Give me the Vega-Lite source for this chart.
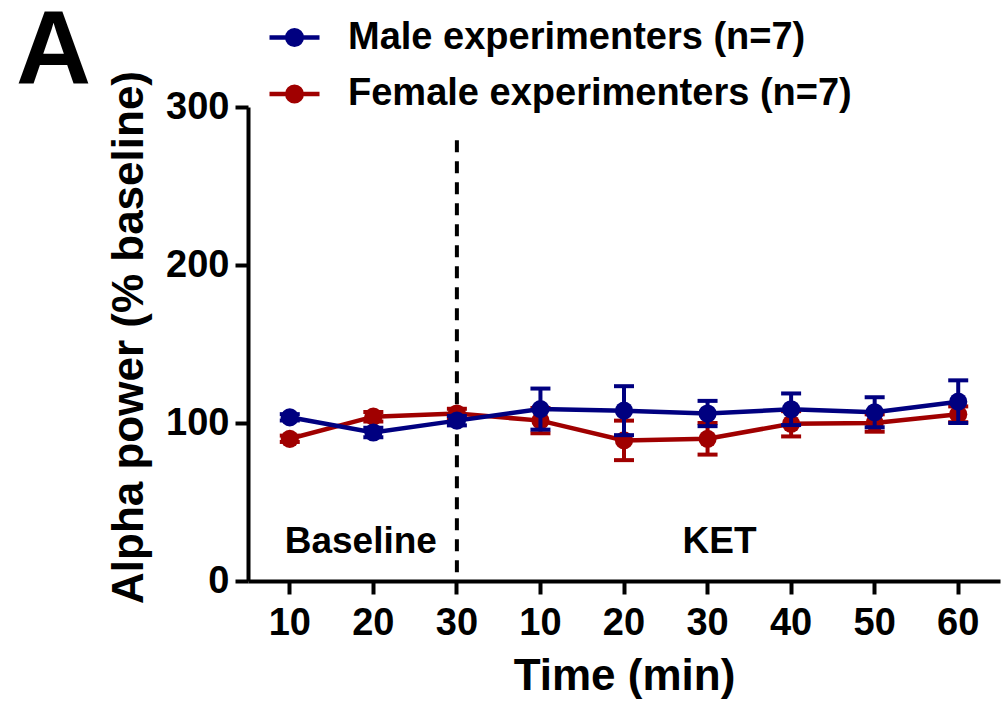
{
  "$schema": "https://vega.github.io/schema/vega-lite/v6.json",
  "width": 752,
  "height": 474,
  "autosize": "none",
  "padding": {"left": 248, "top": 107, "right": 3, "bottom": 123},
  "background": "white",
  "title": {"text": "A", "anchor": "start", "frame": "group", "orient": "top", "fontSize": 104, "font": "Liberation Sans", "fontWeight": "bold", "color": "black", "dx": -232, "dy": 177, "baseline": "alphabetic", "offset": 0},
  "config": {
    "view": {"stroke": null},
    "font": "Liberation Sans",
    "axis": {"grid": false, "domainColor": "black", "domainWidth": 4, "tickColor": "black", "tickWidth": 4, "tickSize": 13, "labelFont": "Liberation Sans", "labelFontWeight": "bold", "labelFontSize": 38, "labelColor": "black", "titleFont": "Liberation Sans", "titleFontWeight": "bold", "titleFontSize": 44, "titleColor": "black"}
  },
  "data": {
    "values": [
      {"group": "Female experimenters (n=7)", "t": "B10", "mean": 90, "err": 2},
      {"group": "Female experimenters (n=7)", "t": "B20", "mean": 104, "err": 3},
      {"group": "Female experimenters (n=7)", "t": "B30", "mean": 106, "err": 3},
      {"group": "Female experimenters (n=7)", "t": "K10", "mean": 101.5, "err": 8},
      {"group": "Female experimenters (n=7)", "t": "K20", "mean": 89, "err": 12.5},
      {"group": "Female experimenters (n=7)", "t": "K30", "mean": 90, "err": 10},
      {"group": "Female experimenters (n=7)", "t": "K40", "mean": 99.5, "err": 8},
      {"group": "Female experimenters (n=7)", "t": "K50", "mean": 100, "err": 5.5},
      {"group": "Female experimenters (n=7)", "t": "K60", "mean": 105.5, "err": 5},
      {"group": "Male experimenters (n=7)", "t": "B10", "mean": 103.6, "err": 2},
      {"group": "Male experimenters (n=7)", "t": "B20", "mean": 94, "err": 3},
      {"group": "Male experimenters (n=7)", "t": "B30", "mean": 101.5, "err": 3},
      {"group": "Male experimenters (n=7)", "t": "K10", "mean": 108.8, "err": 13},
      {"group": "Male experimenters (n=7)", "t": "K20", "mean": 107.8, "err": 15.5},
      {"group": "Male experimenters (n=7)", "t": "K30", "mean": 106, "err": 8},
      {"group": "Male experimenters (n=7)", "t": "K40", "mean": 108.7, "err": 10},
      {"group": "Male experimenters (n=7)", "t": "K50", "mean": 106.8, "err": 9.5},
      {"group": "Male experimenters (n=7)", "t": "K60", "mean": 113.5, "err": 13.5}
    ]
  },
  "encoding": {
    "x": {"field": "t", "type": "nominal", "sort": ["B10","B20","B30","K10","K20","K30","K40","K50","K60"],
      "scale": {"domain": ["B10","B20","B30","K10","K20","K30","K40","K50","K60"], "paddingInner": 0, "paddingOuter": 0},
      "axis": {"title": "Time (min)", "labelAngle": 0, "labelPadding": 10, "titlePadding": 12, "labelExpr": "substring(datum.value, 1)"}},
    "y": {"field": "mean", "type": "quantitative",
      "scale": {"domain": [0, 300], "nice": false},
      "axis": {"title": "Alpha power (% baseline)", "values": [0, 100, 200, 300], "labelPadding": 6, "titlePadding": 14, "titleY": 230}}
  },
  "layer": [
    {
      "data": {"values": [{"t": "B30", "y0": 0, "y1": 279}]},
      "mark": {"type": "rule", "color": "black", "strokeWidth": 4, "strokeDash": [12, 9]},
      "encoding": {"x": {"field": "t", "type": "nominal"}, "y": {"field": "y1", "type": "quantitative"}, "y2": {"field": "y0"}}
    },
    {
      "data": {"values": [{"label": "Baseline", "t": "B30", "yv": 18}]},
      "mark": {"type": "text", "align": "right", "baseline": "alphabetic", "dx": -20, "fontSize": 37, "fontWeight": "bold", "font": "Liberation Sans", "color": "black"},
      "encoding": {"x": {"field": "t", "type": "nominal"}, "y": {"field": "yv", "type": "quantitative"}, "text": {"field": "label"}}
    },
    {
      "data": {"values": [{"label": "KET", "t": "K30", "yv": 18}]},
      "mark": {"type": "text", "align": "center", "baseline": "alphabetic", "dx": 12, "fontSize": 37, "fontWeight": "bold", "font": "Liberation Sans", "color": "black"},
      "encoding": {"x": {"field": "t", "type": "nominal"}, "y": {"field": "yv", "type": "quantitative"}, "text": {"field": "label"}}
    },
    {
      "transform": [{"filter": "datum.group === 'Female experimenters (n=7)'"}],
      "encoding": {"color": {"field": "group", "type": "nominal",
        "scale": {"domain": ["Male experimenters (n=7)", "Female experimenters (n=7)"], "range": ["#000080", "#A00000"]},
        "legend": {"title": null, "orient": "none", "legendX": 19, "legendY": -97, "padding": 0, "rowPadding": 9.5,
          "symbolType": "M-1,0H1M0.29,0A0.29,0.29,0,1,1,-0.29,0A0.29,0.29,0,1,1,0.29,0Z",
          "symbolSize": 2500, "symbolStrokeWidth": 4.5, "labelFontSize": 38, "labelFont": "Liberation Sans", "labelFontWeight": "bold", "labelColor": "black", "labelOffset": 26, "labelLimit": 0,
          "encode": {"symbols": {"update": {"fill": {"scale": "color", "field": "value"}, "stroke": {"scale": "color", "field": "value"}, "opacity": {"value": 1}}}}}}},
      "layer": [
        {"mark": {"type": "errorbar", "opacity": 1, "ticks": {"size": 20, "thickness": 4, "opacity": 1}, "rule": {"strokeWidth": 4, "opacity": 1}}, "encoding": {"yError": {"field": "err"}}},
        {"mark": {"type": "line", "strokeWidth": 4.5}},
        {"mark": {"type": "point", "filled": true, "opacity": 1, "size": 330, "shape": "circle"}}
      ]
    },
    {
      "transform": [{"filter": "datum.group === 'Male experimenters (n=7)'"}],
      "encoding": {"color": {"field": "group", "type": "nominal"}},
      "layer": [
        {"mark": {"type": "errorbar", "opacity": 1, "ticks": {"size": 20, "thickness": 4, "opacity": 1}, "rule": {"strokeWidth": 4, "opacity": 1}}, "encoding": {"yError": {"field": "err"}}},
        {"mark": {"type": "line", "strokeWidth": 4.5}},
        {"mark": {"type": "point", "filled": true, "opacity": 1, "size": 330, "shape": "circle"}}
      ]
    }
  ]
}
